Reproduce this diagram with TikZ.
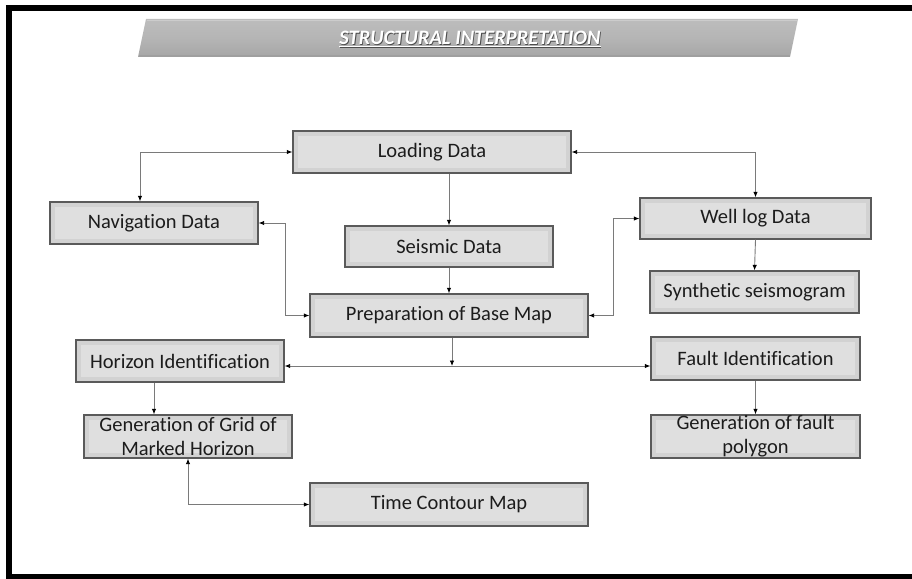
\documentclass[tikz,border=0pt]{standalone}
\usepackage{fontspec}
\setmainfont{Carlito}[Ligatures=NoCommon]
\usetikzlibrary{arrows.meta,calc}

\definecolor{boxfill}{HTML}{D2D2D2}
\definecolor{boxinner}{HTML}{DFDFDF}
\definecolor{boxline}{HTML}{5A5A5A}
\definecolor{wire}{HTML}{7A7A7A}
\definecolor{inkdark}{HTML}{1C1C1C}

\tikzset{
  stepbox/.style={draw=boxline, line width=1.3pt, fill=boxfill,
    minimum width=#1, inner sep=2pt, text=inkdark, align=center,
    font=\fontsize{20.5}{24}\selectfont,
    path picture={\fill[boxinner] ([shift={(5pt,-5pt)}]path picture bounding box.north west)
        rectangle ([shift={(-5pt,5pt)}]path picture bounding box.south east);}},
  tip/.tip={Latex[length=5.5pt,width=4.5pt,color=black]},
  flow/.style={draw=wire, line width=0.9pt, -tip},
  twoway/.style={draw=wire, line width=0.9pt, tip-tip},
}

\begin{document}
\begin{tikzpicture}[x=1pt,y=-1pt]
\useasboundingbox (0,0) rectangle (912,578);
\begin{scope}
\clip (0,0) rectangle (912,578);
% outer frame (right side runs off the page)
\draw[line width=6.5pt, black] (9,8) -- (9,577.5) -- (930,577.5) (5.75,8) -- (930,8);
\end{scope}

% title banner
\shade[top color=gray!52, bottom color=gray!70, middle color=gray!58]
  (146,19) -- (798,19) -- (790,57) -- (138,57) -- cycle;
\draw[gray!40, line width=1pt] (147,20.5) -- (797,20.5);
\draw[gray!75, line width=1.2pt] (138.5,56) -- (790,56);
\node[text=black!70] (titleshadow) at (470.8,39.8) {\fontsize{20.5}{22}\selectfont\bfseries\itshape
  \underline{STRUCTURAL INTERPRETATION}};
\node[text=white] (title) at (470,39) {\fontsize{20.5}{22}\selectfont\bfseries\itshape
  \underline{STRUCTURAL INTERPRETATION}};

% process boxes
\node[stepbox=278pt, minimum height=42pt] (load)  at (432,152)   {Loading Data};
\node[stepbox=208pt, minimum height=42pt] (nav)   at (154,223)   {Navigation Data};
\node[stepbox=208pt, minimum height=41pt] (seis)  at (449,246.5) {Seismic Data};
\node[stepbox=231pt, minimum height=41pt] (well)  at (755.5,218.5) {Well log Data};
\node[stepbox=209pt, minimum height=42pt] (synth) at (754.5,292) {Synthetic seismogram};
\node[stepbox=278pt, minimum height=43pt] (prep)  at (449,315.5) {Preparation of Base Map};
\node[stepbox=208pt, minimum height=42pt] (hor)   at (180,361)   {Horizon Identification};
\node[stepbox=209pt, minimum height=43pt] (fault) at (755.5,358.5) {Fault Identification};
\node[stepbox=208pt, minimum height=43pt, inner sep=0pt] (grid) at (188,436.5)
  {Generation of Grid of\\Marked Horizon};
\node[stepbox=209pt, minimum height=43pt, inner sep=0pt] (poly) at (755.5,436.5)
  {Generation of fault\\polygon};
\node[stepbox=278pt, minimum height=43pt] (time)  at (449,504.5) {Time Contour Map};

% connectors
\draw[twoway] (load.west) -| ([xshift=-14pt]nav.north);
\draw[twoway] (load.east) -| (well.north);
\draw[flow] (load.south -| seis.north) -- (seis.north);
\draw[flow] (seis.south) -- (prep.north);
\draw[twoway] (nav.east) -- ++(27,0) |- (prep.west);
\draw[twoway] (prep.east) -- ++(25,0) |- (well.west);
\draw[flow] (well.south) -- (synth.north);

\coordinate (split) at (452,366);
\draw[flow] (prep.south -| split) -- (split);
\draw[flow] (split) -- (split -| hor.east);
\draw[flow] (split) -- (split -| fault.west);

\draw[flow] ([xshift=-26pt]hor.south) -- ([xshift=-26pt]hor.south |- grid.north);
\draw[flow] (fault.south) -- (poly.north);
\draw[twoway] (grid.south) |- (time.west);
\end{tikzpicture}
\end{document}
